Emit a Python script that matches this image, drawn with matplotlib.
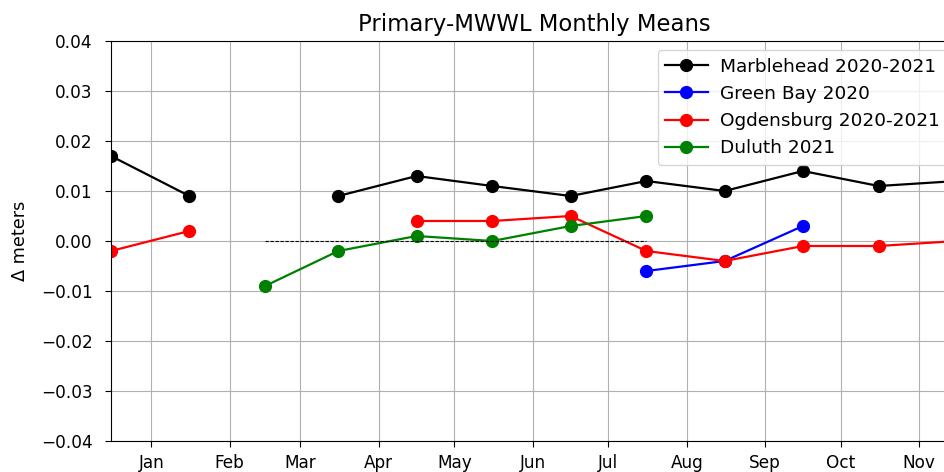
import matplotlib
matplotlib.use("Agg")
import matplotlib.pyplot as plt
import matplotlib.dates as mdates
import numpy as np
import pandas as pd

# mid-month dates (Dec through Nov)
months = ["2020-12-16", "2021-01-16", "2021-02-15", "2021-03-16", "2021-04-16",
          "2021-05-16", "2021-06-16", "2021-07-16", "2021-08-16", "2021-09-16",
          "2021-10-16", "2021-11-16"]
nan = np.nan
marblehead = [0.017, 0.009, nan, 0.009, 0.013, 0.011, 0.009, 0.012, 0.010, 0.014, 0.011, 0.012]
green_bay = [nan, nan, nan, nan, nan, nan, nan, -0.006, -0.004, 0.003, nan, nan]
ogdensburg = [-0.002, 0.002, nan, nan, 0.004, 0.004, 0.005, -0.002, -0.004, -0.001, -0.001, 0.0]
duluth = [nan, nan, -0.009, -0.002, 0.001, 0.0, 0.003, 0.005, nan, nan, nan, nan]
zero_line_range = ["2021-02-15", "2021-07-16"]

series = [
    ("Marblehead 2020-2021", marblehead, "black"),
    ("Green Bay 2020", green_bay, "blue"),
    ("Ogdensburg 2020-2021", ogdensburg, "red"),
    ("Duluth 2021", duluth, "green"),
]

x = pd.to_datetime(months)

fig = plt.figure(figsize=(9.44, 4.72), dpi=100)
ax = fig.add_axes([111 / 944, 1 - 441 / 472, (957 - 111) / 944, 400 / 472])

for label, vals, color in series:
    ax.plot(x, vals, marker="o", color=color, label=label, linewidth=1.6, markersize=8.5)

zr = pd.to_datetime(zero_line_range)
ax.plot(zr, [0, 0], linestyle="--", color="black", linewidth=0.8, dashes=(3, 1.5))

ax.set_xlim(x[0], x[-1])
ax.set_ylim(-0.04, 0.04)
ax.set_yticks(np.linspace(-0.04, 0.04, 9))
ax.xaxis.set_major_locator(mdates.MonthLocator())
ax.xaxis.set_major_formatter(mdates.DateFormatter("%b"))
ax.grid(True)
ax.tick_params(axis="both", labelsize=12.2, length=4.3)
ax.tick_params(axis="y", pad=9)
ax.tick_params(axis="x", pad=5)
ax.set_ylabel("Δ meters", fontsize=12.7)
ax.yaxis.set_label_coords(-0.097, 0.5)
ax.set_title("Primary-MWWL Monthly Means", fontsize=16.4, pad=7)
ax.legend(loc="upper right", fontsize=13.3, handlelength=2.3, handletextpad=0.7)

fig.savefig("out.png", dpi=100)
